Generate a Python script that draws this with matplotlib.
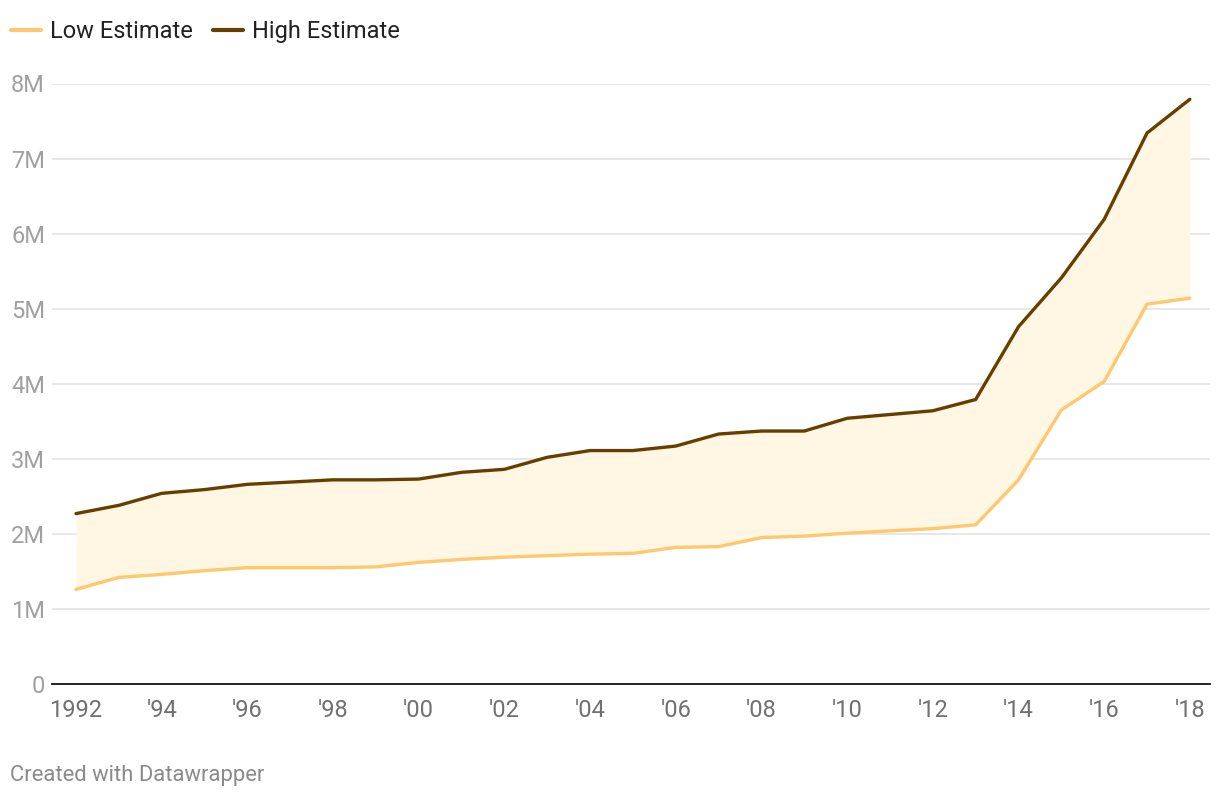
import matplotlib
matplotlib.use("Agg")
import matplotlib.pyplot as plt
from matplotlib.ticker import FuncFormatter

plt.rcParams['font.family'] = ['Roboto', 'DejaVu Sans']

# data (millions)
years = list(range(1992, 2019))
low = [1.26, 1.42, 1.46, 1.51, 1.55, 1.55, 1.55, 1.56, 1.62, 1.66, 1.69,
       1.71, 1.73, 1.74, 1.82, 1.83, 1.95, 1.97, 2.01, 2.04, 2.07, 2.12,
       2.72, 3.65, 4.03, 5.06, 5.14]
high = [2.27, 2.38, 2.54, 2.59, 2.66, 2.69, 2.72, 2.72, 2.73, 2.82, 2.86,
        3.02, 3.11, 3.11, 3.17, 3.33, 3.37, 3.37, 3.54, 3.59, 3.64, 3.79,
        4.76, 5.41, 6.19, 7.34, 7.79]
xtick_years = list(range(1992, 2019, 2))
xtick_labels = ['1992'] + ["'%02d" % (y % 100) for y in xtick_years[1:]]

low_col = '#ffc86e'
high_col = '#663f00'

fig = plt.figure(figsize=(12.2, 8), dpi=100)
ax = fig.add_axes([52/1220, 1-684/800, (1210-52)/1220, (684-83.5)/800])

ax.fill_between(years, low, high, color='#fff7e3', lw=0, zorder=1)
ax.plot(years, low, color=low_col, lw=2.4, label='Low Estimate', zorder=3,
        solid_capstyle='round')
ax.plot(years, high, color=high_col, lw=2.4, label='High Estimate', zorder=3,
        solid_capstyle='round')

ax.set_xlim(1991.44, 2018.47)
ax.set_ylim(0, 8)
ax.set_yticks(range(0, 9))
ax.yaxis.set_major_formatter(FuncFormatter(lambda v, p: '0' if v == 0 else '%dM' % v))
ax.set_xticks(xtick_years)
ax.set_xticklabels(xtick_labels)

ax.grid(axis='y', color='#e3e3e3', lw=1.2, zorder=0)
ax.set_axisbelow(True)
for s in ['top', 'right', 'left']:
    ax.spines[s].set_visible(False)
ax.spines['bottom'].set_color('#111111')
ax.spines['bottom'].set_linewidth(1.3)
ax.spines['bottom'].set_zorder(4)
ax.tick_params(axis='y', length=0, pad=5, labelsize=17, labelcolor='#a0a0a0')
ax.tick_params(axis='x', length=0, pad=11, labelsize=17, labelcolor='#707070')

leg = ax.legend(loc='center left', bbox_to_anchor=(6/1220, 1-31.5/800),
                bbox_transform=fig.transFigure,
                ncol=2, frameon=False, fontsize=17, handlelength=1.3,
                handletextpad=0.35, columnspacing=0.85, borderaxespad=0,
                borderpad=0.2)
for t in leg.get_texts():
    t.set_color('#222222')
for h in leg.get_lines():
    h.set_linewidth(3)
    h.set_solid_capstyle('round')

fig.text(10/1220, 1-776/800, 'Created with Datawrapper', fontsize=15.8,
         color='#8a8a8a', va='center', ha='left')

fig.savefig('out.png', dpi=100, facecolor='white')
